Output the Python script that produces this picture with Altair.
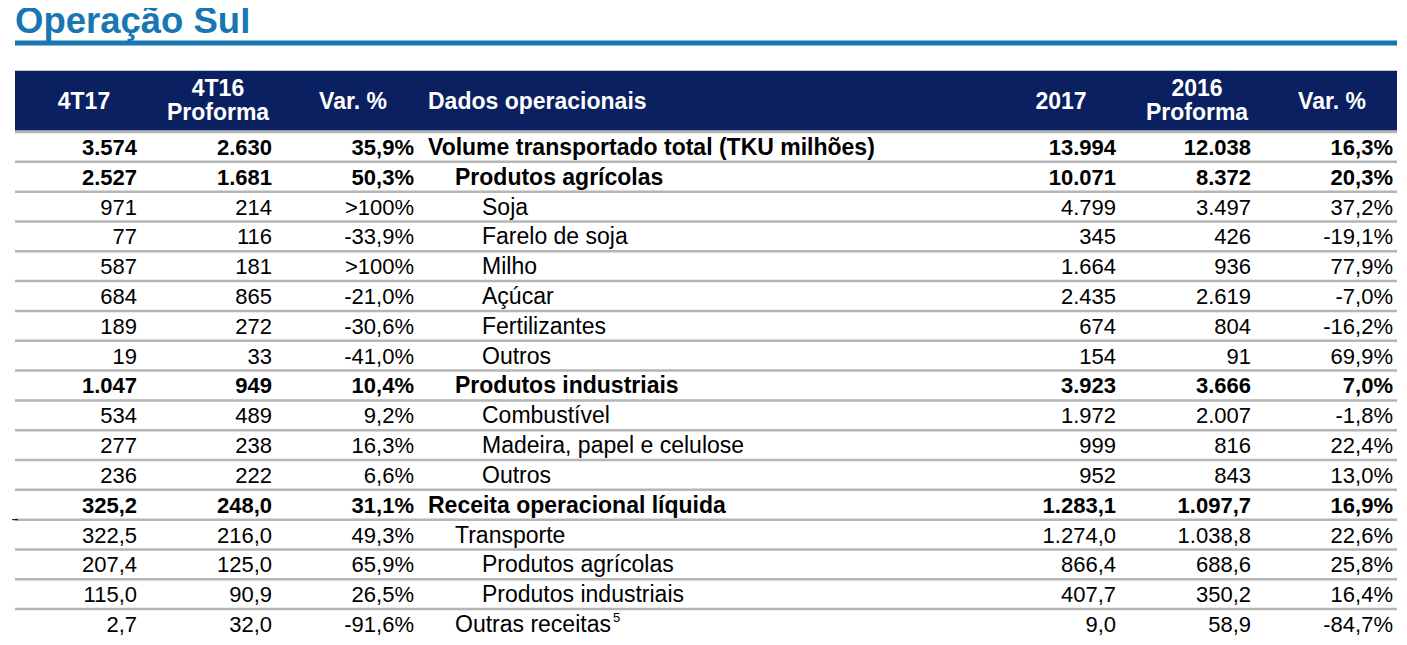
import altair as alt
import pandas as pd

# ---------------- data ----------------
labels = [
    "Volume transportado total (TKU milhões)", "Produtos agrícolas", "Soja",
    "Farelo de soja", "Milho", "Açúcar", "Fertilizantes", "Outros",
    "Produtos industriais", "Combustível", "Madeira, papel e celulose", "Outros",
    "Receita operacional líquida", "Transporte", "Produtos agrícolas",
    "Produtos industriais", "Outras receitas",
]
indent = [0, 1, 2, 2, 2, 2, 2, 2, 1, 2, 2, 2, 0, 1, 2, 2, 1]
bold_rows = [0, 1, 8, 12]
q4_17 = ["3.574", "2.527", "971", "77", "587", "684", "189", "19", "1.047",
         "534", "277", "236", "325,2", "322,5", "207,4", "115,0", "2,7"]
q4_16 = ["2.630", "1.681", "214", "116", "181", "865", "272", "33", "949",
         "489", "238", "222", "248,0", "216,0", "125,0", "90,9", "32,0"]
var_q = ["35,9%", "50,3%", ">100%", "-33,9%", ">100%", "-21,0%", "-30,6%",
         "-41,0%", "10,4%", "9,2%", "16,3%", "6,6%", "31,1%", "49,3%",
         "65,9%", "26,5%", "-91,6%"]
y2017 = ["13.994", "10.071", "4.799", "345", "1.664", "2.435", "674", "154",
         "3.923", "1.972", "999", "952", "1.283,1", "1.274,0", "866,4",
         "407,7", "9,0"]
y2016 = ["12.038", "8.372", "3.497", "426", "936", "2.619", "804", "91",
         "3.666", "2.007", "816", "843", "1.097,7", "1.038,8", "688,6",
         "350,2", "58,9"]
var_y = ["16,3%", "20,3%", "37,2%", "-19,1%", "77,9%", "-7,0%", "-16,2%",
         "69,9%", "7,0%", "-1,8%", "22,4%", "13,0%", "16,9%", "22,6%",
         "25,8%", "16,4%", "-84,7%"]
footnote_row = 16
footnote = "5"
title_text = "Operação Sul"
header_top = ["4T17", "4T16", "Var. %", "Dados operacionais", "2017", "2016", "Var. %"]
header_sub = ["", "Proforma", "", "", "", "Proforma", ""]

# ---------------- layout (pixels of the page) ----------------
W, H = 1391, 629
ROW_H = 29.82
TOP = 132.0
num_cols = [q4_17, q4_16, var_q, y2017, y2016, var_y]
num_right = [137, 272, 414, 1116, 1251, 1393]
header_x = [84, 218, 353, 428, 1061, 1197, 1332]
label_x0, indent_step = 428, 27
left_edge, right_edge = 15, 1397

FONT = "Liberation Sans"
FS_NUM = 22
FS_LABEL = 23
FS_HDR = 23
NAVY = "#0b2060"
BLUE = "#1877b3"
GRID = "#b5b5b5"


def u(y_img):
    return (y_img - TOP) / ROW_H


xs = alt.Scale(domain=[8, 8 + W], range=[0, W])
ys = alt.Scale(domain=[u(8), u(8 + H)], range=[0, H])

# body cells
cells = []
for i in range(len(labels)):
    b = i in bold_rows
    for col, xr in zip(num_cols, num_right):
        cells.append({"x": xr, "y": i + 0.5, "text": col[i], "bold": b, "kind": "num"})
    cells.append({"x": label_x0 + indent_step * indent[i], "y": i + 0.5,
                  "text": labels[i], "bold": b, "kind": "label"})
cells_df = pd.DataFrame(cells)

sep_df = pd.DataFrame({"y": list(range(len(labels) + 1))})
sep_df["x"] = left_edge
sep_df["x2"] = right_edge

hdr = []
for t, s, x in zip(header_top, header_sub, header_x):
    al = "left" if t.startswith("Dados") else "center"
    if s:
        hdr.append({"x": x, "y": u(96), "text": t, "align": al})
        hdr.append({"x": x, "y": u(120), "text": s, "align": al})
    else:
        hdr.append({"x": x, "y": u(109), "text": t, "align": al})
hdr_df = pd.DataFrame(hdr)

X = lambda f="x": alt.X(f"{f}:Q", scale=xs, axis=None)
Y = lambda f="y": alt.Y(f"{f}:Q", scale=ys, axis=None)

# decorations
band = alt.Chart(pd.DataFrame([{"x": left_edge, "x2": right_edge, "y": u(70.7), "y2": u(130.5)}])).mark_rect(
    color=NAVY).encode(x=X(), x2="x2:Q", y=Y(), y2="y2:Q")
underline = alt.Chart(pd.DataFrame([{"x": left_edge, "x2": right_edge, "y": u(40.5), "y2": u(45.5)}])).mark_rect(
    color=BLUE).encode(x=X(), x2="x2:Q", y=Y(), y2="y2:Q")
title = alt.Chart(pd.DataFrame([{"x": left_edge, "y": u(33), "text": title_text}])).mark_text(
    font=FONT, fontSize=36.5, fontWeight="bold", color=BLUE, align="left", baseline="alphabetic"
).encode(x=X(), y=Y(), text="text:N")

seps = alt.Chart(sep_df).mark_rule(color=GRID, strokeWidth=2.5).encode(
    x=X(), x2="x2:Q", y=Y())
stray = alt.Chart(pd.DataFrame([{"x": 12, "x2": 18, "y": 13}])).mark_rule(
    color="black", strokeWidth=1).encode(x=X(), x2="x2:Q", y=Y())

hdr_center = alt.Chart(hdr_df).transform_filter("datum.align == 'center'").mark_text(
    font=FONT, fontSize=FS_HDR, fontWeight="bold", color="white", align="center", baseline="alphabetic"
).encode(x=X(), y=Y(), text="text:N")
hdr_left = alt.Chart(hdr_df).transform_filter("datum.align == 'left'").mark_text(
    font=FONT, fontSize=FS_HDR, fontWeight="bold", color="white", align="left", baseline="alphabetic"
).encode(x=X(), y=Y(), text="text:N")


def body(kind, bold):
    return alt.Chart(cells_df).transform_filter(
        f"datum.kind == '{kind}' && datum.bold == {'true' if bold else 'false'}"
    ).mark_text(
        font=FONT, fontSize=FS_NUM if kind == "num" else FS_LABEL,
        fontWeight="bold" if bold else "normal", color="black",
        align="right" if kind == "num" else "left", baseline="alphabetic", dy=8
    ).encode(x=X(), y=Y(), text="text:N")


foot = alt.Chart(pd.DataFrame([{"x": 613, "y": footnote_row + 0.5, "text": footnote}])).mark_text(
    font=FONT, fontSize=13, color="black", align="left", baseline="alphabetic", dy=-2
).encode(x=X(), y=Y(), text="text:N")

chart = alt.layer(
    underline, title, band, seps, stray, hdr_center, hdr_left,
    body("num", False), body("num", True), body("label", False), body("label", True), foot
).properties(
    width=W, height=H, padding=0, autosize=alt.AutoSizeParams(type="none")
).configure_view(stroke=None)

chart.save("out.html", embed_options={"renderer": "svg", "actions": False})
